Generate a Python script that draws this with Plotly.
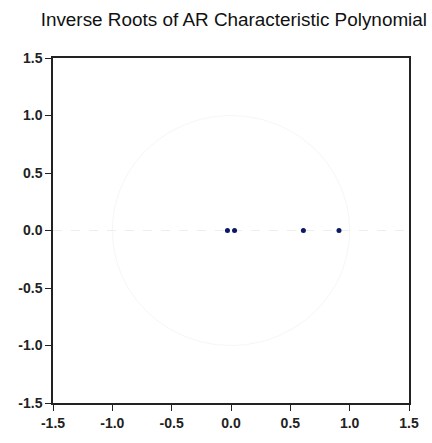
import numpy as np
import plotly.graph_objects as go

title = "Inverse Roots of AR Characteristic Polynomial"
root_real = [-0.03, 0.03, 0.61, 0.91]
root_imag = [0.0, 0.0, 0.0, 0.0]
tick_vals = [-1.5, -1.0, -0.5, 0.0, 0.5, 1.0, 1.5]
tick_text = ["-1.5", "-1.0", "-0.5", "0.0", "0.5", "1.0", "1.5"]

theta = np.linspace(0, 2 * np.pi, 361)

fig = go.Figure()
# faint unit circle and zero lines (barely visible in the scan)
fig.add_trace(go.Scatter(x=np.cos(theta), y=np.sin(theta), mode="lines",
                         line=dict(color="#f6f6f6", width=1), hoverinfo="skip", showlegend=False))
fig.add_trace(go.Scatter(x=[-1.5, 1.5], y=[0, 0], mode="lines",
                         line=dict(color="#eeeeee", width=1, dash="dash"), hoverinfo="skip", showlegend=False))
fig.add_trace(go.Scatter(x=root_real, y=root_imag, mode="markers",
                         marker=dict(color="#0b1866", size=5), showlegend=False))

axis_common = dict(range=[-1.5, 1.5], tickvals=tick_vals, ticktext=tick_text,
                   showgrid=False, zeroline=False, showline=True, linecolor="#222222",
                   linewidth=1.5, mirror=True, ticks="outside", ticklen=6, tickcolor="#222222",
                   tickfont=dict(family="Arial, Liberation Sans", size=14, color="#222222",
                                 weight="bold"))
fig.update_xaxes(**axis_common)
fig.update_yaxes(**axis_common)

fig.update_layout(
    width=432, height=443,
    margin=dict(l=53, r=23, t=58, b=32),
    paper_bgcolor="white", plot_bgcolor="white",
    title=dict(text=title, xref="paper", x=0.508, xanchor="center", y=0.957, yanchor="middle",
               font=dict(family="Arial, Liberation Sans", size=18.9, color="#111111")),
)
fig.write_html("out.html")
